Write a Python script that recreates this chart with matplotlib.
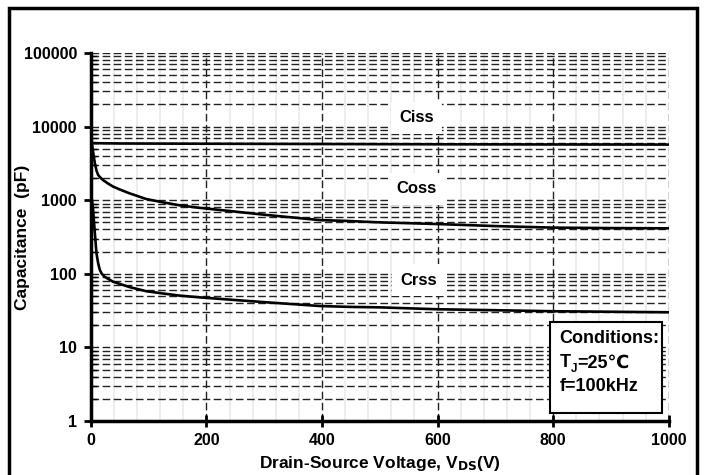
import matplotlib
matplotlib.use("Agg")
import matplotlib.pyplot as plt
from matplotlib.patches import Rectangle
from matplotlib.ticker import LogLocator, FixedLocator, NullFormatter
import numpy as np

plt.rcParams['font.family'] = ['Liberation Sans', 'DejaVu Sans']
plt.rcParams['font.weight'] = 'bold'
plt.rcParams['mathtext.default'] = 'regular'

# Data
vds_ciss = [0, 2, 10, 50, 200, 400, 600, 800, 1000]
ciss = [7000, 6000, 5950, 5900, 5850, 5800, 5750, 5720, 5700]

vds_coss = [0, 1, 4, 7, 10, 12.7, 16, 21, 30, 38.6, 50, 67, 96, 125, 154, 186, 250, 304, 396, 448, 500, 598, 700, 800, 900, 1000]
coss = [7000, 6600, 4500, 3170, 2500, 2200, 2050, 1880, 1680, 1530, 1400, 1240, 1037, 935, 851, 791, 700, 630, 537, 521, 500, 475, 445, 424, 418, 415]

vds_crss = [0, 1, 4, 7, 9.8, 12.7, 15.6, 19, 24, 38.6, 67, 96, 125, 154, 186, 250, 304, 396, 448, 500, 598, 700, 800, 900, 1000]
crss = [1300, 1150, 736, 355, 190, 139, 113, 100, 91, 78, 66, 58, 54, 50.5, 48, 44, 41, 36.5, 35.5, 35, 33, 32, 31, 30.5, 30]

x_ticks = [0, 200, 400, 600, 800, 1000]
y_ticks = [1, 10, 100, 1000, 10000, 100000]
y_ticklabels = ['1', '10', '100', '1000', '10000', '100000']

curve_labels = ['Ciss', 'Coss', 'Crss']
label_x = [564, 564, 567]
label_y = [13100, 1420, 82]

fig = plt.figure(figsize=(7.04, 4.75), dpi=100)
ax = fig.add_axes([0.129, 0.1137, 0.821, 0.7747])

ax.set_yscale('log')
ax.set_xlim(0, 1000)
ax.set_ylim(1, 100000)

# gridlines
for v in np.arange(40, 1000, 40):
    if v % 200 != 0:
        ax.axvline(v, color='#ececec', lw=1.3, zorder=0.5)
for v in x_ticks[1:]:
    ax.axvline(v, color='#222222', lw=1.0, dashes=(5.5, 2.5), zorder=1)
for d in range(0, 5):
    for m in range(1, 10):
        val = m * 10 ** d
        if val > 1:
            ax.axhline(val, color='#222222', lw=1.0, dashes=(5.5, 2.5), zorder=1)
ax.axhline(100000, color='#222222', lw=1.0, dashes=(5.5, 2.5), zorder=1)

ax.plot(vds_ciss, ciss, color='black', lw=1.9, zorder=3)
ax.plot(vds_coss, coss, color='black', lw=1.9, zorder=3)
ax.plot(vds_crss, crss, color='black', lw=1.9, zorder=3)

for t, xx, yy in zip(curve_labels, label_x, label_y):
    ax.text(xx, yy, t, ha='center', va='center', fontsize=12, fontweight='bold',
            zorder=4, bbox=dict(boxstyle='square,pad=0.5', fc='white', ec='none'))

# conditions box
ax.add_patch(Rectangle((0.794, 0.022), 0.195, 0.248, transform=ax.transAxes,
                       fc='white', ec='black', lw=1.5, zorder=5))
fam = ['Liberation Sans', 'DejaVu Sans']
cx = 0.811
ax.text(cx, 0.223, 'Conditions:', transform=ax.transAxes, ha='left', va='center',
        fontsize=13, fontweight='bold', zorder=6, family=fam)
tT = ax.text(cx, 0.135, 'T', transform=ax.transAxes, ha='left', va='bottom',
             fontsize=13, fontweight='bold', zorder=6, family=fam)
tJ = ax.annotate('J', xy=(1, 0), xycoords=tT, xytext=(0, -2.5), textcoords='offset points',
                 ha='left', va='bottom', fontsize=8.5, fontweight='bold', zorder=6, family=fam)
ax.annotate('=25℃', xy=(1, 0), xycoords=tJ, xytext=(0, 2.2), textcoords='offset points',
            ha='left', va='bottom', fontsize=13, fontweight='bold', zorder=6, family=fam)
ax.text(cx, 0.094, 'f=100kHz', transform=ax.transAxes, ha='left', va='center',
        fontsize=13, fontweight='bold', zorder=6, family=fam)

for s in ['top', 'right']:
    ax.spines[s].set_visible(False)
for s in ['left', 'bottom']:
    ax.spines[s].set_linewidth(2.5)
    ax.spines[s].set_zorder(7)

ax.set_xticks(x_ticks)
ax.set_xticklabels([str(v) for v in x_ticks])
ax.yaxis.set_major_locator(FixedLocator(y_ticks))
ax.set_yticklabels(y_ticklabels)
ax.yaxis.set_minor_locator(LogLocator(base=10, subs=np.arange(2, 10)))
ax.yaxis.set_minor_formatter(NullFormatter())
ax.tick_params(axis='x', which='major', direction='inout', length=8, width=2, labelsize=11.5, pad=5)
ax.tick_params(axis='y', which='major', direction='out', length=5, width=2, labelsize=11.5, pad=5)
ax.tick_params(axis='y', which='minor', direction='in', length=4, width=1)
for lbl in ax.get_xticklabels() + ax.get_yticklabels():
    lbl.set_fontweight('bold')

ax.set_xlabel(r'Drain-Source Voltage, V$_\mathbf{DS}$(V)', fontsize=12.5, fontweight='bold', labelpad=4)
ax.set_ylabel('Capacitance  (pF)', fontsize=12.5, fontweight='bold')
ax.yaxis.set_label_coords(-0.1055, 0.5)

# outer frame
fig.patches.append(Rectangle((9 / 704, -0.05), (697 - 9) / 704, (475 - 8) / 475 + 0.05,
                             transform=fig.transFigure, fill=False, ec='black', lw=2.5))

fig.savefig('out.png', dpi=100)
